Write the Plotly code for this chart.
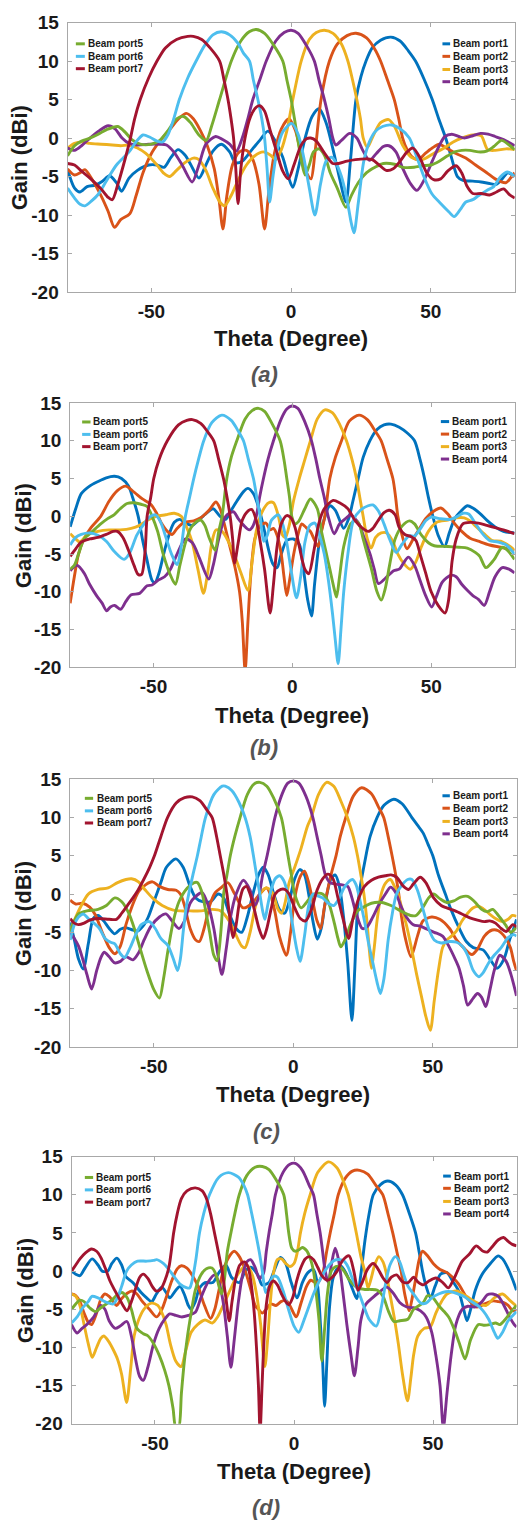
import plotly.graph_objects as go

W, H = 518, 1531

THETA_RANGE = [-80, 80]
GAIN_RANGE = [-20, 15]
THETA_TICKS = [-50, 0, 50]
GAIN_TICKS = [-20, -15, -10, -5, 0, 5, 10, 15]

PORT_NAMES = ["Beam port1", "Beam port2", "Beam port3", "Beam port4",
              "Beam port5", "Beam port6", "Beam port7"]
PORT_COLORS = ["#0072BD", "#D95319", "#EDB120", "#7E2F8E",
               "#77AC30", "#4DBEEE", "#A2142F"]
PANEL_TAGS = ["(a)", "(b)", "(c)", "(d)"]

# ---------------- measured gain patterns: (theta in degree, gain in dBi) ----------------
# panel (a)
A_PORT1 = [(-80,-4.1),(-77.5,-6.5),(-75.6,-7),(-73,-6.3),(-70,-6.1),(-67.5,-5.6),(-65,-4.9),(-62.5,-5.8),(-60.7,-6.9),(-58,-5.2),(-55,-4.2),(-51,-3.5),(-48,-3.5),(-45.5,-3.8),(-43,-2.5),(-40.5,-1.5),(-38,-2.2),(-36,-3.4),(-33,-5.2),(-30.5,-3.5),(-28,-1.7),(-25,-0.8),(-22,-1.8),(-20,-3.2),(-17.5,-3),(-14,-1.5),(-11,-0.2),(-8.3,0.9),(-5.5,-0.5),(-3,-2.5),(-1,-5),(0.6,-6.4),(2.5,-4),(5,0),(7.5,2.8),(10,3.8),(12.5,2),(15,-1.5),(17.5,-5.5),(19.6,-8.3),(21.2,-3),(23.2,5),(25,8),(26.8,10),(29,11.7),(32,12.7),(35.7,13.1),(39,12.6),(42,11.3),(44.5,10),(47.5,7.7),(50.5,5),(53,2.3),(55.3,0),(57.5,-2.7),(59.5,-5),(61.5,-5.5),(65,-5.6),(68,-5.7),(71,-5.9),(73.5,-6),(75.5,-5.3),(77.5,-4.5),(80,-5)]
A_PORT2 = [(-80,-4),(-77.5,-4.8),(-75.5,-4.5),(-73.8,-4.1),(-71,-5.5),(-68,-7.5),(-65.5,-9.5),(-63.2,-11.6),(-61,-10.6),(-57.7,-9.8),(-55.5,-7.5),(-53,-4.5),(-50,-2),(-47,-0.4),(-43,1.3),(-40,2.6),(-37.5,3.2),(-35,2.5),(-32.5,1),(-30,-1),(-27.5,-4),(-25.8,-8),(-24.4,-11.8),(-23,-7.5),(-21,-3.5),(-18.5,-1.8),(-16,-1.6),(-13.7,-2.8),(-11.5,-6),(-9.5,-11.8),(-8,-7),(-6,-2),(-3.5,1.2),(-0.8,2.5),(1.5,1),(3.5,-2),(5.5,-4.5),(7.1,-5.3),(8.5,-2),(10.7,5),(13.7,10),(16.5,12.2),(20,13.3),(23.2,13.6),(27,13),(30,11.5),(32,10),(34.5,7.5),(36.9,5),(38.5,2.5),(39.9,0),(41.5,-1.5),(43.5,-2.5),(45.5,-2.8),(48,-2),(50.5,-1.3),(53,-0.8),(55.5,-1.3),(59,-2),(62.5,-2.6),(66,-3.5),(70,-4.5),(73,-5.3),(76.8,-5.8),(78.5,-5.2),(80,-4.5)]
A_PORT3 = [(-80,-1.3),(-77.5,-0.7),(-75,-0.5),(-72,-0.7),(-68,-0.8),(-64,-0.9),(-61,-1),(-58,-0.9),(-55,-1.3),(-52,-2),(-48,-3.5),(-45.5,-4.6),(-43.5,-5),(-41,-4.2),(-38,-3.2),(-35,-2.6),(-33,-2.8),(-30.5,-4.2),(-28,-6.5),(-25.5,-8.3),(-23.8,-8.8),(-21.5,-7.5),(-19,-5.5),(-16,-3.5),(-13,-2.3),(-10,-1.8),(-7.5,-2.2),(-5.5,-2.8),(-3.5,-1.5),(-1.5,1),(0.6,5),(3.6,10),(6.5,12.8),(9,13.7),(11.9,14),(15,13.6),(18,12.2),(20.3,10),(22,7.5),(23.5,5),(24.8,2.5),(25.8,0),(27.3,-1.2),(29,0),(32,2),(34.9,2.4),(37,1.5),(40,-1),(43,-2.5),(47,-2.8),(51,-2),(54.3,-1.4),(58,-0.5),(61,0),(65,0.4),(68,0.3),(70.3,-1.5),(73,-1.6),(77,-1.4),(80,-1.5)]
A_PORT4 = [(-80,-1.3),(-77.5,-1.6),(-75,-1),(-72,0),(-68.5,1),(-65.5,1.6),(-63,1.2),(-60.5,0),(-58,-0.7),(-55,-0.9),(-51,-0.8),(-47,-0.8),(-44.6,-0.9),(-42,-1.8),(-39,-3.5),(-35.4,-5.7),(-33,-3.5),(-30.5,-0.8),(-27,0.2),(-24.5,-0.2),(-22,-0.8),(-19.6,-1.7),(-17.5,0),(-15.5,2.5),(-13.7,5),(-11,7.8),(-8.9,10),(-5.5,12.6),(-2.5,13.7),(0,14),(2.5,13.6),(5.5,12),(8.3,10),(10,7.5),(11.9,5),(13.5,2.5),(14.9,0),(16,-0.9),(18,-0.3),(21,0.6),(23.5,0),(25.5,-1.5),(28,-2.9),(30.5,-2),(33,-1.1),(35,-1),(37.5,-1.8),(40,-4),(42.5,-5.8),(45,-6.8),(47.5,-5.5),(50.5,-3),(53,-1),(55,0.2),(57.5,0.5),(60,0.2),(62,0),(65,0.3),(67.8,0.6),(70.5,0.5),(73,0.2),(76,-0.2),(80,-1)]
A_PORT5 = [(-80,-2.3),(-77.5,-1),(-75,-0.4),(-72,0),(-69,0.5),(-66,1.1),(-62,1.5),(-59.5,0.8),(-57,-0.2),(-54,-0.8),(-50,-0.8),(-47,-0.3),(-44,1),(-41,2.5),(-38.5,2.8),(-36,2),(-33,0.4),(-30.4,-0.3),(-28.5,1.5),(-25.6,5),(-21.4,10),(-18,12.6),(-15,13.8),(-12.5,14.1),(-9.5,13.6),(-6.5,12.2),(-3,10),(-1.5,7.5),(0,5),(1.2,2.5),(2.3,0),(3.7,-3),(5,-4.8),(6.5,-3.5),(8,-1.8),(10,-1.4),(12,-2.3),(14,-4.5),(16.5,-6.5),(19.6,-9),(21.5,-7.5),(24,-5.8),(27,-4.5),(30,-3.8),(33,-3.3),(37,-3.4),(40,-3.8),(44,-3.8),(47,-3.6),(50,-3.5),(53,-3),(56,-2.3),(58.5,-1.8),(61,-1.6),(64,-1.6),(67,-1.8),(70,-1.7),(72.5,-1.1),(75.3,-0.3),(78,-0.9),(80,-1.5)]
A_PORT6 = [(-80,-6.5),(-77.5,-7.8),(-75.5,-8.6),(-73.8,-8.8),(-71.5,-8.2),(-69,-7.3),(-66,-5.5),(-62.5,-3.5),(-58,-1.8),(-55.5,-0.5),(-53,0.4),(-50.5,0.1),(-48,-0.4),(-46,-0.5),(-44,0.5),(-42,2.5),(-40,5),(-37,7.8),(-34,10),(-31,12),(-28,13.4),(-25,13.8),(-22,13.4),(-19,12.3),(-17,11),(-14.9,10),(-13.5,7.5),(-11.9,5),(-10.5,2.5),(-9.5,0),(-8.6,-4),(-7.7,-8.3),(-6.5,-5),(-5,-1.5),(-3,0.8),(0.2,1.9),(2.5,0.5),(4.5,-2.5),(6.5,-6.5),(8.5,-10),(10.5,-6),(12.5,-3),(14.5,-2.5),(16,-3.2),(18,-5),(20,-8),(21.5,-11),(22.5,-12.3),(24,-8.5),(26,-3),(28,-0.5),(30,0.8),(32.7,1.5),(36,1.7),(39,1.2),(42.3,0),(44.5,-2),(47.5,-5),(50.3,-7.2),(53.5,-8.5),(56.5,-9.6),(58.3,-10.2),(60.5,-9.3),(62.5,-8.3),(65,-8),(67,-7.5),(70,-6.8),(72.5,-6.3),(75,-5),(77.4,-4.4),(80,-5)]
A_PORT7 = [(-80,-3.3),(-77.5,-3.5),(-75,-4.3),(-72,-5.2),(-68,-6.6),(-65.5,-7.7),(-64,-8),(-62,-6),(-60,-3.5),(-57.5,0),(-56,2.5),(-54,5),(-51,7.8),(-48,10),(-45,11.7),(-41,12.8),(-37,13.2),(-35,13.2),(-32,12.8),(-29,11.7),(-25.6,10),(-24,7.5),(-22.6,5),(-21.5,2.5),(-20.6,0),(-19.8,-4),(-19,-8.5),(-18,-4),(-16.5,0),(-14.5,2.8),(-12.5,4),(-11.3,4.2),(-9.5,3.5),(-7.5,1),(-5,-2),(-3,-4.3),(-1,-5.3),(1,-3.5),(3.5,-1),(5.5,-0.1),(7,0),(9,-0.4),(12,-2),(14.9,-3.3),(17,-3.3),(20,-3),(23,-2.8),(26.8,-2.7),(29,-2.8),(31.5,-3.5),(34,-4.2),(36.5,-4),(39,-3),(41.5,-1.8),(43.6,-1.3),(46,-2.5),(48.5,-4.5),(51,-5.4),(53.5,-5.3),(56,-4.3),(59,-3.6),(61,-4.5),(63,-6.3),(65,-7.2),(68,-7.2),(71,-7.4),(73.5,-7),(76,-6.6),(78,-7.3),(80,-7.8)]

# panel (b)
B_PORT1 = [(-80,-1.4),(-78,1),(-76,3),(-73,4),(-70,4.6),(-67,5.1),(-64,5.3),(-61.5,5),(-59,4),(-57.5,2.5),(-55.5,0),(-54,-3),(-52.5,-5.5),(-50.5,-8.5),(-49.5,-8.8),(-48,-7.5),(-46,-4.5),(-44,-2),(-42.5,-0.8),(-40.5,-0.4),(-38.5,-0.9),(-36,-1.2),(-34,-0.6),(-31,0.4),(-28.5,1),(-26,0),(-24,-0.4),(-22.5,0.5),(-20,2),(-17.5,3.3),(-16,3.7),(-14,3),(-12,1),(-10,-2),(-8.5,-4.5),(-7,-6.3),(-5.5,-6.8),(-4,-5),(-2,-3.2),(0.4,-3),(2.5,-3.7),(4,-7),(5.5,-11),(6.9,-13.2),(8,-9),(9.5,-4),(11,-1),(13.5,1.4),(15.5,0.8),(18.5,-1.6),(20.3,-0.3),(21.8,2),(23.7,5),(25.5,7.8),(27.9,10),(30.5,11.5),(33,12.1),(35.5,12.2),(38.5,11.8),(41.5,11),(44,10),(46,7.5),(47.6,5),(49,2.5),(50.6,0),(52.5,-2.5),(54.8,-4),(56.5,-2.2),(58.5,-0.3),(60.5,0.6),(63,1.4),(65,1.1),(67.5,0.4),(70,-0.5),(73,-1.4),(76,-2),(80,-2.2)]
B_PORT2 = [(-80,-11.5),(-78.5,-8),(-77,-5),(-75,-3),(-72.5,-1.5),(-69,0),(-66,2),(-63,3.4),(-60,4),(-57,3.2),(-54,2.3),(-51,1.6),(-49,0.5),(-47,-1),(-45,-2),(-43.3,-2.4),(-41.5,-1.6),(-39,-0.8),(-35.5,-0.6),(-33,-0.2),(-30,0.8),(-27.5,1.9),(-26,1),(-24.5,-1),(-22.5,-4),(-20.5,-7),(-19,-10),(-18,-14),(-17,-20.5),(-16,-14),(-15,-8),(-13.5,-3),(-11.5,-1.2),(-9.5,-0.9),(-8,-1.8),(-6.8,-1.6),(-5.5,-2.5),(-4,-5),(-3,-8),(-2,-10.5),(-1,-8.5),(0.5,-5),(2,-2.5),(3.4,-1),(5,-1.5),(6.5,-2),(7.8,-3),(9.3,-4),(10.5,-2),(11.7,0),(13.5,5),(15.5,7.8),(17.7,10),(20.5,12.6),(24,13.4),(27,12.8),(30,11.2),(32,10),(34,7.7),(36.2,5),(37.2,2.5),(38,0),(39.5,-2.5),(41.3,-4.3),(43.5,-3),(45.5,-1.8),(48,-0.3),(51,0.7),(53.5,1.1),(56,0.3),(58.5,-1),(61,-2),(64,-2.9),(67,-3.3),(71,-3.8),(75,-4.1),(80,-4.5)]
B_PORT3 = [(-80,-2.3),(-78,-3),(-76.5,-3.4),(-74,-2.5),(-70,-2),(-66,-1.8),(-62,-1.8),(-58,-1.6),(-55,-1.2),(-52,-0.5),(-49,0),(-45.6,0.2),(-42.5,0.4),(-40,0),(-38,-1.5),(-36,-3.5),(-34,-7),(-32,-10.2),(-30.5,-7.5),(-29,-3.5),(-27.5,-1.8),(-25.3,-2),(-23.5,-3),(-21,-5),(-18.5,-7.5),(-16,-9.8),(-14.5,-6),(-13,-2),(-11,0.5),(-8.5,1.8),(-6.8,1.8),(-5,0),(-3.5,-2.5),(-2.5,-2.8),(-1,-1),(0.4,2),(2.5,5),(4.5,7.5),(6.5,10),(9,12.9),(11.7,14.1),(14.5,13.7),(17,12.2),(19.5,10),(21.5,7.5),(23.1,5),(24.3,2.5),(25.5,0),(27,-3),(28.4,-4.2),(30,-2.8),(32,-2.2),(34,-2.2),(36,-3.2),(38,-5),(40,-6.2),(42.5,-7),(44.5,-6),(46.5,-4),(49,-2),(52,-0.8),(56,-0.5),(59,-0.2),(61.9,-0.2),(64,-0.6),(66,-1.3),(69,-2.3),(72,-3.2),(75,-3.3),(78,-3.9),(80,-4.5)]
B_PORT4 = [(-80,-7.2),(-77.5,-6.5),(-75,-7.5),(-73,-9),(-70.5,-10.5),(-68.5,-11.5),(-66.9,-12.5),(-65.5,-12),(-64,-11.8),(-61.8,-12.3),(-60,-11.3),(-58,-10.4),(-55,-10.2),(-52.3,-9.2),(-50.5,-9.1),(-48.5,-8.5),(-46,-8),(-43.9,-7),(-41.5,-5),(-38.5,-3),(-36,-3.5),(-33.5,-5.5),(-30.1,-8.3),(-28.5,-6.5),(-26.5,-3),(-24,0),(-21.2,0.6),(-19.5,-0.3),(-17.5,-1.2),(-15.5,-1.8),(-14.5,-1.5),(-13,0),(-11.8,2.5),(-10.4,5),(-8.8,7.5),(-6.8,10),(-4,12.9),(-2,14.2),(-0.2,14.6),(2,14.3),(4.5,12.5),(6.9,10),(8.5,7.5),(9.9,5),(11.5,2.5),(12.9,0),(15.1,-2.3),(17,-1),(19.5,-0.2),(21,0.2),(22.5,-0.3),(24,-1),(26,-3),(28,-5),(29.5,-7),(31,-8.9),(33.5,-8.2),(36.5,-7.2),(38.5,-7),(40,-6.2),(41.8,-5.4),(44,-6.5),(46,-8.5),(48,-10.5),(50.2,-12),(52,-10.5),(54,-8.7),(57.1,-7.8),(59,-8),(61,-9),(63,-9.8),(65,-10.5),(67,-11),(69.1,-11.8),(71,-10),(73,-8),(75.6,-6.8),(78,-7),(80,-7.5)]
B_PORT5 = [(-80,-7),(-78.5,-6.5),(-77,-5),(-75,-3),(-72,-2),(-69,-1),(-66.5,-0.3),(-64.2,0.2),(-62,1),(-59.5,1.7),(-57,1.8),(-54.5,1.6),(-52.3,1.3),(-50.5,0),(-48.5,-2),(-46.5,-5),(-44,-7.7),(-42.1,-9),(-40.5,-6.5),(-38.5,-3.5),(-36.5,-1.5),(-34.5,-0.7),(-33,-0.5),(-31.5,-1.2),(-30,-2.8),(-27.8,-4.5),(-26.5,-2),(-25.3,0),(-23.6,5),(-22,7.8),(-20,10),(-17,12.9),(-14.5,14),(-12.2,14.3),(-10,13.9),(-7.5,12.4),(-4.4,10),(-3,7.5),(-2,5),(-1,2.5),(-0.2,0),(1,-1),(2.2,-0.7),(4.5,1),(6.5,2.3),(9,1),(10.5,-2),(12,-4.5),(13.5,-7),(15,-9.5),(15.9,-10.7),(17,-8),(18.5,-4),(21,-1),(22.5,-0.6),(24,-1),(25.5,-3),(27,-5),(28.5,-7),(30.5,-10),(32,-11.1),(33.5,-9.5),(35,-6.5),(37,-3),(39.5,-1.3),(42.2,-0.6),(44,-1),(46.5,-2.5),(49,-3.5),(51.1,-3.9),(56,-4),(60,-4.1),(63,-4.2),(66,-4.8),(67.5,-5.3),(69.7,-6.8),(72.5,-5.8),(75.6,-4.1),(77.5,-4.5),(80,-5.7)]
B_PORT6 = [(-80,-3.8),(-78,-2.8),(-76,-2.4),(-73,-2.2),(-70,-2.5),(-67,-3.3),(-64,-4.7),(-60.6,-5.7),(-58.5,-4.8),(-56,-2.5),(-53,-0.8),(-51,0),(-49.3,0.2),(-47.5,-0.7),(-45.5,-2.8),(-43.5,-5),(-41.5,-6.4),(-40,-4),(-38.5,0),(-37,2.5),(-35.5,5),(-33.8,7.5),(-31.9,10),(-29,12.4),(-25.4,13.4),(-22,12.7),(-19.5,11.3),(-17.6,10),(-15.8,7.5),(-14,5),(-12.8,2.5),(-11.6,0),(-10.3,-3.3),(-9,-2.5),(-7.5,-0.5),(-5,0.2),(-3.5,-1),(-2,-3.5),(-0.5,-7),(1.5,-10.8),(3,-8),(4.5,-3.5),(6.3,-1.2),(8.1,-0.9),(9.8,-2.5),(11.5,-5),(13,-8.5),(14.5,-13),(15.5,-16.5),(16.5,-19.5),(17.5,-15),(18.5,-10),(20,-5),(22,-0.5),(24.5,0.8),(27.3,1.4),(29,1.5),(31,0.7),(33,-1),(35,-3),(37.4,-4.8),(39.5,-3.7),(42,-2.6),(44,-2.6),(46,-1.7),(48,-0.6),(50,-0.1),(53,-0.3),(57,-0.4),(59.5,0),(61.4,0.4),(63.5,0.3),(66,-1),(68.5,-2.3),(71,-3.2),(74,-3.4),(77,-3.8),(80,-5)]
B_PORT7 = [(-80,-5.3),(-78,-4.3),(-76,-3.4),(-73,-3),(-70,-2.8),(-67,-2.4),(-64.5,-2),(-63,-2),(-61,-2.8),(-59,-4.5),(-57,-6.5),(-55.5,-7.7),(-54.3,-7.7),(-53,-4.5),(-52.3,0),(-51,2.5),(-49.9,5),(-48,7.5),(-45,10),(-41,12.1),(-38,12.7),(-36,12.8),(-33,12.3),(-30.5,11.2),(-28.3,10),(-26.5,7.5),(-24.8,5),(-23.5,2.5),(-22.4,0),(-21.5,-3),(-20.8,-6.2),(-19.5,-3.5),(-18,-0.5),(-16,0.7),(-14.6,0.9),(-13,-0.5),(-11.5,-3.5),(-10,-7),(-8,-12.8),(-6.8,-9),(-5.5,-4),(-4,-1),(-2,0.1),(-0.5,-0.2),(1,-1.5),(2.5,-4),(4.5,-7),(5.9,-7.6),(7.8,-4.5),(9.5,-1),(11.5,1),(14.7,2.1),(17,1.8),(20,1),(22.5,-0.5),(25,-1.5),(27.3,-2),(29,-1.6),(31,-0.5),(33,0.5),(35,0.8),(37,0.2),(38.5,-1.5),(40.5,-2.4),(42.8,-2.7),(44.5,-3.2),(46,-5),(48,-7.5),(50,-10),(52.5,-11.8),(55,-12.8),(56.3,-11),(57.5,-6),(59,-3),(61.4,-1),(64.3,-0.8),(67,-0.9),(70,-1.2),(73,-1.5),(76,-1.8),(80,-2.3)]

# panel (c)
C_PORT1 = [(-80,-3.7),(-78.5,-6),(-77,-8.5),(-75.3,-9.8),(-73.5,-6.5),(-71.7,-3.2),(-70,-2.8),(-68,-3.5),(-66,-4.5),(-64,-5.2),(-62,-4.6),(-60,-4.4),(-57.5,-4.7),(-55.7,-4.8),(-53.5,-4),(-52,-3),(-50,-1),(-47.5,1.5),(-45.5,3.5),(-42.1,4.6),(-39.5,3.5),(-37,1),(-35,-0.5),(-32.5,-1),(-29.7,-1),(-27,0),(-25,-0.5),(-23,-2.5),(-20.5,-4.5),(-18.5,-5),(-16.5,-3),(-14.5,0),(-12.5,2.5),(-10.8,3.5),(-9,2.5),(-7,0),(-5,-2),(-3.1,-2.5),(-1.5,-1),(0.5,2),(2.3,3.2),(4,2.5),(5.5,0),(7,-3.5),(8.6,-5.9),(10,-4.5),(11.5,-1),(13.5,2),(15,2.5),(16.5,1),(18,-3),(19.5,-9),(21,-16.5),(22,-10),(23,-2),(24,1),(25.5,4),(27.5,7.5),(30,10),(32.5,11.6),(36,12.4),(39,11.8),(42.5,10),(44.5,9),(46.5,8),(48.3,6.5),(50,5),(52,2.5),(54.5,0),(56.5,-2),(59.5,-4.5),(62,-6.2),(64.5,-7),(68,-7.3),(71,-8.8),(73,-9.7),(75.5,-8.5),(77.5,-6),(79,-4.5),(80,-3.3)]
C_PORT2 = [(-80,-0.8),(-78,-1.3),(-75.5,-1.2),(-73,-1.7),(-71,-2.7),(-68.5,-5),(-66,-7),(-64,-7.8),(-62,-6.8),(-60,-4),(-58,-1.8),(-55.5,0.3),(-53,1.2),(-50.5,1.6),(-48,1),(-45,0.6),(-42,0.5),(-40.5,0),(-39,-1.5),(-37,-4.5),(-35,-6),(-33.7,-6.2),(-32,-4.5),(-30,-1.5),(-28,0.2),(-26,0.8),(-23.5,1.5),(-21,0),(-18,-1.8),(-15,-1.3),(-12,0),(-9.6,0.8),(-8,-0.3),(-6.5,-2.5),(-5,-5.5),(-2.5,-8),(-1,-5),(0.5,-0.5),(2.5,2.3),(4,3),(5.5,1.5),(7,-1),(8.5,-3.5),(9.8,-4.5),(11,-2),(12,0),(13.5,2.5),(15.3,5),(16.8,7.5),(18.8,10),(21.5,12.8),(24.5,13.9),(28,13.1),(30.5,11.4),(32.4,10),(34,7.5),(35.4,5),(36.7,2.5),(37.8,0),(38.8,-3),(40.3,-6),(42.2,-8.2),(44.5,-5.5),(46.5,-3.5),(49.6,-3),(52.5,-3.3),(56,-4.5),(58.5,-6),(61,-7),(64,-7.9),(66,-7.2),(68.5,-5.5),(71.3,-4.7),(73.5,-4.8),(76,-5.7),(77.8,-7),(79,-8.8),(80,-10)]
C_PORT3 = [(-80,-4.8),(-78,-3),(-76,-1.5),(-73.5,0),(-70,0.6),(-66.4,0.8),(-63,1.5),(-60,1.9),(-58,2),(-55.5,1.6),(-53,0.5),(-50.5,-0.5),(-47,-1.5),(-43,-2.1),(-40.4,-2.2),(-37,-2.2),(-33,-2.2),(-29,-2),(-26,-2.2),(-23,-3.5),(-21,-5),(-18.5,-6.8),(-17.3,-7),(-15.5,-5),(-13.5,-1.5),(-11.5,0.3),(-9.5,0.8),(-7.5,0.2),(-5.5,-2),(-4.2,-2.5),(-3,-1.2),(-1.5,1.5),(0.5,3.5),(2.8,6),(5,8.8),(6.4,10),(9,13),(11.9,14.6),(14.5,14.1),(17,12.2),(19.4,10),(21.5,7.5),(23,5),(24.2,2.5),(25.3,0),(26.5,-4),(27.3,-7.5),(28,-9.7),(29,-7),(30,-3.5),(31.5,0),(33,1.4),(34.8,1.9),(36,1.2),(37.5,0),(39,-2),(40.5,-4),(42.3,-7),(44.2,-10.5),(46,-13.5),(47.5,-16),(49.1,-17.8),(50.5,-14),(52,-10),(53.5,-7),(55,-6),(56.7,-5.5),(58.5,-4.8),(60.5,-3.5),(62.5,-2.5),(64.5,-1.8),(66.3,-1.6),(68,-1.9),(70,-2.5),(72.5,-3.2),(75,-3.6),(77,-3.3),(78.5,-2.8),(80,-2.9)]
C_PORT4 = [(-80,-5),(-78.5,-5.8),(-77,-6.8),(-75.5,-8.5),(-74,-10.5),(-72.3,-12.4),(-70.5,-10),(-69,-8.3),(-67.8,-7.6),(-66,-8.2),(-64,-9),(-62,-8.8),(-60,-8.2),(-57.5,-8.6),(-55.5,-7.7),(-53.5,-6),(-51,-4.2),(-48,-3),(-45.7,-2.6),(-43.5,-3.5),(-41,-4.5),(-39,-3.5),(-37,-1.2),(-35,-0.3),(-32.7,0.2),(-30.5,-1.5),(-28.5,-4.5),(-27,-8),(-25.6,-10.5),(-24,-7),(-22.5,-3),(-20.5,0),(-17.9,1.8),(-15.5,0.5),(-13.8,-1.5),(-12.5,-0.5),(-11,2.5),(-9.4,5),(-8,7.5),(-6.6,10),(-4,13.1),(-2,14.5),(0,14.8),(2,14.5),(4.5,12.8),(7,10),(8.5,7.5),(10,5),(11.5,2.5),(13.2,1.5),(15.3,1.3),(17.5,1.2),(19.5,1),(21,-0.5),(22.5,-2.5),(24.7,-4.5),(26.4,-4.3),(28.5,-3),(30.5,-1.5),(33,0),(34.8,0.9),(36.5,0.3),(38.5,-1.5),(40.5,-3),(43,-4),(45.5,-4.2),(48,-4.6),(50.5,-5),(53.5,-5.5),(56,-7),(58,-8.5),(59.4,-9.7),(61,-12),(62.5,-14.5),(64.5,-13.6),(66,-13),(67.5,-13.5),(69,-14.7),(70.5,-12.5),(72,-10),(74,-8),(76.3,-8.8),(78,-10.5),(80,-13.3)]
C_PORT5 = [(-80,-5),(-78.5,-3.5),(-77,-2.6),(-74,-2.2),(-70,-2),(-67,-1.5),(-64,-0.5),(-61.5,-1),(-59,-2.5),(-57,-4.5),(-55,-7),(-52.5,-10),(-50,-12.5),(-48,-13.6),(-46.5,-11),(-45,-7.5),(-43,-3.5),(-41,-1),(-38,0.8),(-35.5,1.5),(-34.4,1.5),(-33,0.5),(-31.5,-2),(-30,-5),(-28.5,-8),(-27.3,-8.7),(-26,-5),(-25,0),(-23.8,2.5),(-22.6,5),(-21,7.5),(-19.1,10),(-16.5,13),(-14,14.4),(-12,14.6),(-9.5,14.1),(-7,12.5),(-4.3,10),(-3,7.5),(-1.9,5),(-0.7,2.5),(0.5,0),(2.8,-1.8),(4.5,-1.2),(6.5,-0.3),(8.5,0.1),(10.5,0),(12.5,-1),(14.5,-3.5),(16,-5.8),(17,-6.9),(18.5,-6),(20.5,-4),(23,-2.2),(25.7,-1.6),(28,-1.2),(31.6,-1.1),(35,-1.5),(38.5,-2.2),(42,-2.8),(44,-2.8),(46.5,-1.7),(48.5,-0.5),(50.3,0),(52.5,-0.6),(55,-1.1),(57.5,-0.9),(60,-0.4),(62.5,-0.3),(65,-1),(67.5,-2),(69.5,-2.3),(71.5,-2),(73.5,-2.8),(76,-4),(78,-5),(80,-4.3)]
C_PORT6 = [(-80,-6),(-78.5,-4),(-77,-3),(-75.3,-2.6),(-73.5,-3.2),(-71.5,-3.8),(-69.5,-4.5),(-67.5,-5.8),(-65.5,-6.3),(-64,-6.5),(-62,-7.8),(-60.5,-8.3),(-58.5,-7),(-56.5,-5.3),(-54.5,-4),(-51.6,-3.6),(-49.5,-4.5),(-47.5,-5.8),(-45,-6.7),(-43,-8.5),(-41.5,-10),(-40.5,-8.5),(-39.5,-5),(-38.5,-2),(-37.5,0),(-36,2.5),(-34.4,5),(-33,7.5),(-31.5,10),(-28.5,13),(-25.5,14.1),(-24.4,14.1),(-22,13.5),(-19.5,12),(-17.3,10),(-15.5,7.5),(-14.3,5),(-13.2,2.5),(-12,0),(-11,-2.2),(-10.2,-3.3),(-9.2,-1.5),(-8,0.5),(-6.5,2),(-4.9,2.4),(-3.5,1.8),(-2,0),(-0.5,-3.5),(1,-6.8),(2.4,-8.8),(4,-5.5),(5.5,-1.5),(7,0),(8.5,-0.2),(10.5,-0.5),(12.5,-1.2),(14.5,-1.5),(16.5,-0.5),(18.5,1),(21.2,1.9),(22.5,1.2),(24,-1),(25.5,-3.5),(27,-6.5),(28.5,-9),(30,-11.5),(31.2,-13),(32.5,-11),(34,-6),(35.5,-2.5),(37,0),(39,1.2),(41,1.9),(42.5,1.9),(44.5,0.5),(46.5,-2),(48.5,-4.5),(50.5,-6),(53,-6.4),(56,-6.2),(58.5,-6.3),(60.5,-6.8),(62.5,-8),(64.5,-10),(66.5,-10.8),(68,-10.3),(70,-9),(72,-8),(74.5,-7),(77,-5.7),(79,-5.3),(80,-5.5)]
C_PORT7 = [(-80,-3.2),(-78.5,-3.8),(-77,-4),(-75,-3.8),(-73,-3.4),(-70,-3.2),(-66,-3.3),(-63.4,-3.3),(-61.5,-2.5),(-59.5,-1.5),(-57.5,-0.5),(-55.7,0.5),(-53.5,2),(-51.5,3.5),(-49.8,5),(-47.5,7.5),(-45.1,10),(-42,11.9),(-39,12.6),(-36.2,12.7),(-33.5,12.2),(-31,11),(-29.1,10),(-27.5,7.5),(-26.2,5),(-24.9,2.5),(-23.8,0),(-22.8,-3),(-21.6,-5.7),(-20.5,-4),(-19.3,-1),(-18,0.7),(-16.8,1),(-15.5,0),(-14,-2),(-12.3,-4.5),(-10.8,-5.8),(-9.5,-4.5),(-8,-2),(-6.5,0),(-4.5,0.6),(-3,0.6),(-1.5,0),(0.5,-1.8),(2.5,-3.2),(4.4,-3.5),(6.5,-2),(8.5,0.5),(10.5,2),(12.4,2.6),(14.2,2),(16,-0.5),(18,-3.5),(19.8,-5.8),(21.5,-3),(23.5,-0.5),(25.5,1),(28,1.8),(30.5,2.2),(33,2.4),(35,2.5),(37,2.2),(39.5,1),(41.3,0.6),(43,1.3),(45.5,2.2),(47.5,1.5),(50.3,-0.5),(53,-1.5),(55,-1.8),(58,-2.2),(61,-2.7),(63.3,-3.1),(66,-3.4),(68.5,-3.6),(70.4,-3.5),(72.5,-3.8),(74.5,-4.5),(76.3,-4.9),(78.7,-4),(80,-4.3)]

# panel (d)
D_PORT1 = [(-80,0),(-78.5,-0.4),(-77,-0.6),(-75,0.5),(-72.6,1.6),(-70.5,0.8),(-69,0),(-67,0),(-65.5,1),(-63.7,1.7),(-62,0.8),(-60.5,-0.7),(-58,-1.5),(-55,-2.8),(-53,-3.5),(-51.2,-4),(-49.5,-3),(-47.6,-2.1),(-46,-2.8),(-44.7,-3.5),(-42.5,-2.5),(-41,-2),(-39.5,-3),(-38,-4.5),(-37,-5),(-35.5,-4),(-34,-2.2),(-32,-1.5),(-29.2,-1.5),(-27,-0.2),(-24.5,0.8),(-22.5,-0.8),(-19.7,-1.5),(-17.5,0),(-15.6,0.5),(-13,-0.5),(-11.5,-1.8),(-9,-1.5),(-7,0.2),(-4.9,1.8),(-3,1),(-1,-1.5),(1.1,-3.5),(3,-1.5),(5,-0.2),(7,0.2),(8.5,-2),(9.5,-7),(10.3,-12),(11,-17.7),(11.8,-12),(12.7,-5),(14,-1),(15.5,0.3),(17,0.6),(19,-0.5),(21.3,-2.6),(22.6,-3.6),(24,-0.5),(25.5,4),(27,7.5),(28.5,10),(31,11.3),(33.7,11.8),(36.5,11.3),(39,10),(41.5,7.5),(43.7,5),(45,2.5),(46.2,0),(47.5,-2),(49.1,-3.5),(50.7,-2),(52.7,-0.4),(55,-0.2),(57,-1.3),(59.2,-2.6),(61,-5),(62.2,-6.5),(63.5,-5),(65.1,-2.6),(67.5,-0.5),(70.4,0.9),(73.4,2),(75,1.6),(76.9,0.4),(78.5,-1),(80,-2.5)]
D_PORT2 = [(-80,-3),(-78.5,-3.2),(-77,-4),(-75.5,-5.5),(-74,-6.7),(-72.8,-7),(-71,-5.5),(-69.5,-3.7),(-68,-3),(-66.5,-3.3),(-65,-4),(-63.8,-4.5),(-62,-3.6),(-60,-2.9),(-58.3,-2.6),(-56.5,-3),(-54.5,-4),(-52,-5),(-49.4,-6),(-47.5,-5),(-46,-3.5),(-44,-1.3),(-42,0.3),(-40.5,0.7),(-38.5,0.4),(-36.5,-0.6),(-34.5,-2),(-32.5,-4.2),(-30,-6.2),(-28.5,-5),(-27,-2.5),(-25.5,0),(-23.5,1.8),(-21.5,2.6),(-19.5,1.8),(-17.5,0),(-15.5,-2.5),(-14,-4.5),(-12.8,-5),(-11.4,-5.5),(-10,-5),(-8.4,-4.3),(-6.5,-4.5),(-4.7,-4),(-3,-3.8),(-1.5,-4.5),(0.8,-6),(2.5,-4.2),(4.5,-2),(6,-1.2),(7.6,-1.5),(9,-1.3),(10.5,0),(11.7,2.5),(13,5),(14.5,7.5),(15.9,10),(18.5,12.2),(21,13.1),(23.6,13.2),(26.5,12.7),(29.5,11.2),(31.9,10),(33.8,7.5),(35.5,5),(37,2.5),(38.5,0),(39.8,-3),(41.4,-5.2),(42.5,-3.5),(43.8,-0.9),(45,1.5),(46.2,2.6),(48,2),(50.3,0.9),(52.5,0.2),(55,-0.2),(57,-0.8),(59.2,-1.7),(62.2,-3.5),(65.7,-4.7),(68.5,-4.3),(71.6,-3.9),(73.5,-4),(75.2,-4.1),(77,-4.5),(78.7,-5.2),(80,-5)]
D_PORT3 = [(-80,-3),(-78.5,-3.3),(-77,-4.5),(-75.5,-7),(-74,-9.5),(-72.6,-11.3),(-71,-10),(-69.5,-8.8),(-68.4,-8.5),(-66.5,-9.3),(-65,-10.3),(-63.5,-11.5),(-62,-13.5),(-60.2,-17.2),(-58.8,-13),(-57.5,-8.5),(-56,-6.5),(-54,-5),(-51.3,-4.2),(-49,-4.5),(-47.8,-5.2),(-46,-7),(-44.5,-9.5),(-42.5,-11.8),(-40.6,-12.5),(-39,-10.5),(-37,-8),(-34.7,-7),(-32,-6.4),(-29.4,-6.8),(-27.5,-6),(-25.5,-4.5),(-23,-2.5),(-20,-0.3),(-17,0.8),(-15,-0.5),(-13.5,-3),(-12,-7),(-10.5,-12.5),(-9.5,-9),(-8.5,-4),(-7.5,-0.5),(-6,1.5),(-4.5,1.6),(-3,1),(-1.5,0.6),(0,1),(1.2,2.5),(2.3,5),(3.8,7.5),(5.8,10),(8.5,12.9),(12.4,14.3),(15.5,13.5),(17.5,12),(19.5,10),(21,7.5),(22.4,5),(24,2),(25.4,0),(26.6,-2.2),(27.7,-1),(29,0.8),(30.5,1.9),(32,1.2),(33,0),(34.5,-3),(36,-6),(37.5,-9.5),(39,-13.5),(40.8,-17),(42,-14),(43,-11),(44.5,-8.5),(46.8,-7.5),(49,-7.3),(51,-5.5),(53,-4),(55,-3),(58.5,-2.6),(62,-3.3),(65,-4),(69,-4.5),(72,-3.5),(75,-3),(77.5,-3.8),(80,-4.6)]
D_PORT4 = [(-80,-7),(-78,-8.1),(-76.5,-7.6),(-74.5,-7),(-72,-6),(-69.6,-4.5),(-68,-5),(-66.5,-6.5),(-64.3,-7.5),(-62.5,-7.2),(-60.1,-6.6),(-58.5,-8.5),(-57,-11.5),(-55.5,-13.8),(-54.2,-14.3),(-52.5,-12.5),(-50.5,-9.5),(-48.5,-7.5),(-46.5,-6.3),(-44.7,-5.6),(-42.5,-5.8),(-40.5,-6),(-38,-5.8),(-35.5,-5.4),(-33.5,-3.5),(-31,-1.5),(-28.6,-0.5),(-27,-1.5),(-25.5,-4),(-24,-8.5),(-22.7,-12.6),(-21.5,-9),(-20,-4),(-18.5,-0.5),(-17,1.2),(-15.6,1.5),(-14,0.5),(-12.5,-1),(-11,-0.3),(-10,2.5),(-9,5),(-7.8,7.5),(-6.7,10),(-4,12.9),(-1.5,14),(0.5,14.1),(3,13.2),(5.5,11.2),(7,10),(8.2,7.5),(9.4,5),(10.3,2.5),(11.2,0),(12.3,-1.5),(13.5,1),(14.8,3),(16,1.5),(17.5,-2.5),(19,-7),(20.5,-11),(21.7,-13.7),(23,-10),(24,-6.5),(25.7,-4.4),(28.5,-3.4),(30.5,-2.8),(33.3,-2.1),(35.5,-2.8),(38,-4.1),(40.5,-4.7),(43,-4.8),(45.5,-5.2),(47.5,-6),(49.5,-8),(51,-11),(52.5,-15),(53.7,-20.5),(55,-16),(56.5,-11),(58.2,-7),(60.5,-5),(62.5,-4.6),(65,-4.7),(67.6,-4),(69.5,-3.1),(71.5,-3),(73.5,-3.3),(75.5,-4.5),(77.5,-6),(79.2,-7),(80,-7.3)]
D_PORT5 = [(-80,-5),(-78.5,-4.3),(-77,-3.8),(-75.5,-4),(-73.5,-4.8),(-71.4,-5.3),(-69.5,-4.8),(-67.5,-4.3),(-65.5,-3.8),(-63.5,-3.1),(-61.9,-2.8),(-60,-3.5),(-58.5,-5),(-56.5,-7.5),(-54.2,-8.2),(-52.5,-8.5),(-50.5,-9.5),(-48.5,-11),(-46.5,-13),(-45,-15),(-43.5,-18),(-42.5,-20.5),(-41.5,-20.5),(-40.5,-16),(-39.5,-12),(-38.5,-9),(-37,-5.5),(-35.5,-2.5),(-33.5,-0.5),(-31.5,0.3),(-29.5,0.4),(-28,-0.5),(-27,-2),(-26,-3),(-25,-1),(-24,2.5),(-22.7,5),(-21.3,7.5),(-19.7,10),(-17,12.5),(-14,13.6),(-11.4,13.7),(-9,13.3),(-6.5,12),(-3.7,10),(-2.7,7.5),(-1.9,5),(-0.8,3),(0.5,2.6),(1.8,2.8),(3,3.1),(4.5,2.7),(5.8,1.7),(7,0),(8,-3),(9,-6.5),(10,-11.8),(11,-7.5),(12,-3),(13.4,0),(15,0.6),(16.4,0.6),(18,0),(20,-1.2),(22.9,-2.2),(25.5,-2.4),(27.6,-2.4),(30,-2.5),(32,-3.3),(34,-5.3),(35.9,-6.6),(38,-6.5),(40.9,-6.3),(43,-5),(46.5,-4.1),(48,-3.2),(50,-3.5),(52,-4.5),(54,-5.3),(55.6,-6),(57.5,-7.5),(59.5,-9.5),(61.5,-11.5),(63.5,-9),(66.3,-7),(68.5,-7.1),(70.4,-7),(72.5,-6.8),(74,-7),(76,-6.3),(78.1,-5.3),(80,-4.5)]
D_PORT6 = [(-80,-6.8),(-78,-6),(-76,-4.8),(-74,-4),(-72.7,-3.3),(-70.5,-3.5),(-68,-4),(-65,-4.3),(-63.5,-3.5),(-62,-2),(-60.2,0),(-58.5,0.8),(-56.3,1.3),(-53,1.3),(-50.5,1.4),(-49.4,1.5),(-47,1),(-45,0.2),(-43,-0.8),(-41,-1.7),(-38.5,-2.2),(-37.5,-2.2),(-36.5,-1),(-35.3,1.5),(-34,5),(-32.5,7.5),(-30.4,10),(-27,12.3),(-23.6,12.9),(-20,12.3),(-18,11.2),(-16.7,10),(-15.2,7.5),(-13.8,5),(-12.5,2.5),(-11.4,0),(-10.2,-2.8),(-9,-2),(-7.5,-0.7),(-6,-0.8),(-4,-2.5),(-2,-5),(0,-7.2),(1.7,-8),(3.5,-6.5),(5,-5),(7,-3),(9.5,-1),(12,0.5),(14.5,1.4),(16.5,1.5),(18,1.3),(19.5,0.5),(21,-1),(23,-2.5),(25,-4.5),(27,-6.3),(29.6,-7.2),(31.5,-4.5),(33,-1.5),(34.5,0.8),(36.5,1.9),(38,1.2),(39.5,-0.5),(41,-2),(43,-3),(45.6,-4.2),(47.5,-4.2),(49.5,-3.5),(52,-3),(54.5,-2.7),(56.5,-2.7),(59,-3),(61,-3.3),(63,-3.8),(66,-4.5),(68,-5.2),(70,-6.3),(72,-8),(73.3,-8.8),(75,-8),(77,-6.5),(79.2,-5.6),(80,-5.3)]
D_PORT7 = [(-80,0),(-78.5,0.8),(-77,1.6),(-75,2.4),(-72.8,2.9),(-71,2.6),(-69.5,1.8),(-68,0.5),(-66.3,-1.2),(-64.5,-2.5),(-63,-3.5),(-61.5,-4.5),(-60.1,-5.2),(-58.5,-4),(-57,-2.3),(-55.5,-0.8),(-54.2,-0.4),(-52.5,-1),(-51,-2),(-49.6,-2.6),(-48,-2.4),(-46.5,-1.3),(-45,0.5),(-44,3),(-43.3,5),(-42,7.5),(-40.5,9.5),(-38.5,10.5),(-35.5,10.9),(-33,10.5),(-31.5,9.5),(-30,7.5),(-28.6,5),(-27.2,2.5),(-25.9,0),(-24.5,-3.5),(-23.3,-6.5),(-22.3,-4),(-21,-1),(-19.5,0.8),(-17.9,1.2),(-16.5,0.5),(-15.3,-2),(-14.3,-5.5),(-13.5,-10),(-12.8,-15),(-12.2,-21),(-11.5,-15),(-10.8,-9),(-10,-4.5),(-8.8,-2),(-7.5,-1.3),(-6,-1.8),(-4.5,-3),(-3,-4),(-1.9,-4.4),(-0.5,-3.5),(1,-1.2),(2.5,0.5),(4,1.6),(5.5,1.9),(7,1.5),(8.5,0.5),(10,-0.6),(12,-1.2),(13.5,-0.9),(15.5,0),(17.5,1.4),(19.8,2),(21.5,0),(23,-2.5),(24.5,-1.5),(26.5,0.3),(28.5,1),(30,0.4),(32,-0.9),(33.5,-1.5),(35,-0.8),(36.9,-0.5),(39,-1.4),(41,-1.5),(43,-0.8),(44.5,-1.4),(46.5,-1.8),(48.5,-1.3),(51,-0.9),(53.5,-1.5),(55.5,-2.2),(57.5,-1),(60.5,1.3),(63,2.2),(65.5,3.3),(68,2.6),(69.5,2.5),(71.5,3.3),(73.5,4.1),(75.3,4.4),(77,3.9),(78.5,3.5),(80,3.3)]

PANEL_DATA = [
    [A_PORT1, A_PORT2, A_PORT3, A_PORT4, A_PORT5, A_PORT6, A_PORT7],
    [B_PORT1, B_PORT2, B_PORT3, B_PORT4, B_PORT5, B_PORT6, B_PORT7],
    [C_PORT1, C_PORT2, C_PORT3, C_PORT4, C_PORT5, C_PORT6, C_PORT7],
    [D_PORT1, D_PORT2, D_PORT3, D_PORT4, D_PORT5, D_PORT6, D_PORT7],
]

# ---------------- page geometry (pixels) ----------------
# plot frame per panel: left, right, top, bottom
FRAMES = [
    (67.7, 515.7, 12.7, 286.0),
    (70.3, 515.5, 398.5, 666.5),
    (70.3, 517.5, 780.0, 1051.5),
    (71.7, 517.5, 1162.5, 1433.5),
]
XTITLE_Y = [333, 715, 1100, 1482]
YTITLE_X = [19, 23, 23, 25]
TAG_POS = [(265, 370), (265, 748), (267, 1137), (267, 1518)]
# legend blocks: (line start x, line end x, text x, row centres)
LEFT_KEYS = [
    (76.0, 85.0, 86.5, [34.3, 47.0, 59.5]),
    (82.3, 90.7, 91.5, [417.7, 430.3, 442.7]),
    (85.0, 93.3, 94.7, [799.3, 812.0, 824.3]),
    (85.0, 93.3, 94.5, [1183.7, 1196.3, 1208.7]),
]
RIGHT_KEYS = [
    (443.3, 451.0, 452.0, [34.3, 47.0, 60.3, 72.7]),
    (441.7, 450.0, 450.8, [417.3, 430.0, 442.7, 455.3]),
    (443.3, 450.7, 451.7, [796.7, 809.3, 822.7, 835.3]),
    (444.0, 451.7, 452.7, [1182.3, 1194.7, 1208.0, 1220.7]),
]

FONT = "Arial, Liberation Sans, sans-serif"
AXIS_GREY = "#a8a8a8"


def px(x):
    return x / W


def py(y):
    return 1 - y / H


fig = go.Figure()
annotations = []
shapes = []
layout_axes = {}

for i, (ports, frame) in enumerate(zip(PANEL_DATA, FRAMES)):
    n = "" if i == 0 else str(i + 1)
    left, right, top, bottom = frame

    for j, pts in enumerate(ports):
        fig.add_trace(go.Scatter(
            x=[p[0] for p in pts],
            y=[p[1] for p in pts],
            mode="lines",
            name=PORT_NAMES[j],
            showlegend=False,
            line=dict(color=PORT_COLORS[j], width=2.9, shape="spline", smoothing=0.8),
            xaxis="x" + n,
            yaxis="y" + n,
        ))

    layout_axes["xaxis" + n] = dict(
        domain=[px(left), px(right)], anchor="y" + n, range=THETA_RANGE,
        tickmode="array", tickvals=THETA_TICKS, ticktext=[str(t) for t in THETA_TICKS],
        ticks="inside", ticklen=4, tickwidth=1, tickcolor=AXIS_GREY,
        showline=True, linecolor=AXIS_GREY, linewidth=1, mirror="ticks",
        showgrid=False, zeroline=False, ticklabelstandoff=2,
        tickfont=dict(family=FONT, size=19, color="#1a1a1a", weight="bold"),
    )
    layout_axes["yaxis" + n] = dict(
        domain=[py(bottom), py(top)], anchor="x" + n, range=GAIN_RANGE,
        tickmode="array", tickvals=GAIN_TICKS, ticktext=[str(t) for t in GAIN_TICKS],
        ticks="inside", ticklen=4, tickwidth=1, tickcolor=AXIS_GREY,
        showline=True, linecolor=AXIS_GREY, linewidth=1, mirror="ticks",
        showgrid=False, zeroline=False, ticklabelstandoff=4,
        tickfont=dict(family=FONT, size=19, color="#1a1a1a", weight="bold"),
    )

    # axis titles and panel tag
    annotations.append(dict(
        x=px((left + right) / 2), y=py(XTITLE_Y[i]), xref="paper", yref="paper",
        text="<b>Theta (Degree)</b>", showarrow=False, xanchor="center", yanchor="middle",
        font=dict(family=FONT, size=22, color="#1a1a1a"),
    ))
    annotations.append(dict(
        x=px(YTITLE_X[i]), y=py((top + bottom) / 2), xref="paper", yref="paper",
        text="<b>Gain (dBi)</b>", textangle=-90, showarrow=False,
        xanchor="center", yanchor="middle",
        font=dict(family=FONT, size=22, color="#1a1a1a"),
    ))
    tx, ty = TAG_POS[i]
    annotations.append(dict(
        x=px(tx), y=py(ty), xref="paper", yref="paper",
        text="<b><i>" + PANEL_TAGS[i] + "</i></b>", showarrow=False,
        xanchor="center", yanchor="middle",
        font=dict(family=FONT, size=22, color="#555555"),
    ))

    # two key blocks: ports 5-7 on the left, ports 1-4 on the right
    for (x0, x1, tx0, rows), port_ids in ((LEFT_KEYS[i], [4, 5, 6]), (RIGHT_KEYS[i], [0, 1, 2, 3])):
        for row_y, k in zip(rows, port_ids):
            shapes.append(dict(
                type="line", xref="paper", yref="paper",
                x0=px(x0), x1=px(x1), y0=py(row_y), y1=py(row_y),
                line=dict(color=PORT_COLORS[k], width=3),
            ))
            annotations.append(dict(
                x=px(tx0), y=py(row_y), xref="paper", yref="paper",
                text="<b>" + PORT_NAMES[k] + "</b>", showarrow=False,
                xanchor="left", yanchor="middle",
                font=dict(family=FONT, size=10, color="#1a1a1a"),
            ))

fig.update_layout(
    width=W, height=H, autosize=False,
    margin=dict(l=0, r=0, t=0, b=0),
    paper_bgcolor="white", plot_bgcolor="white",
    showlegend=False,
    annotations=annotations,
    shapes=shapes,
    **layout_axes,
)

fig.write_html("out.html")
